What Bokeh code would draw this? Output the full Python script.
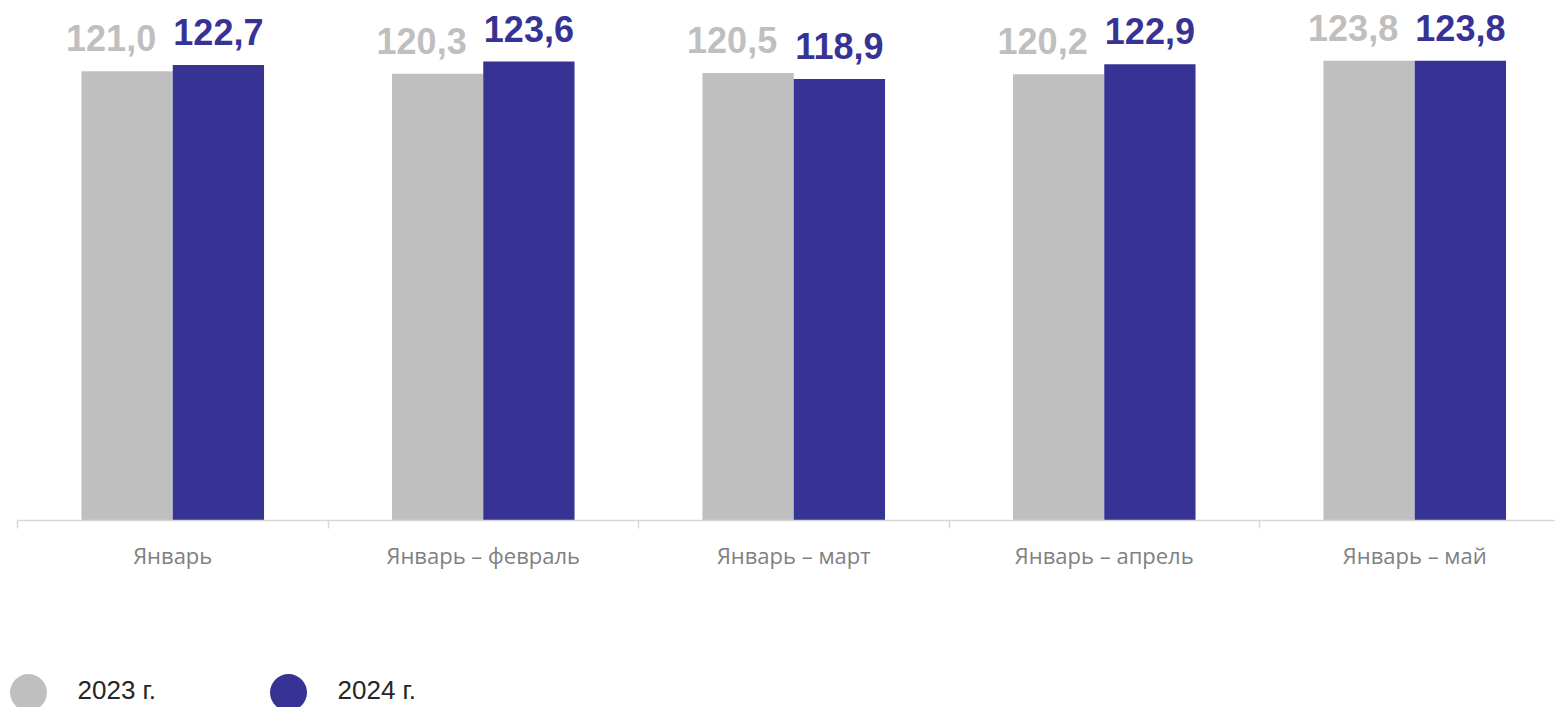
from bokeh.plotting import figure
from bokeh.models import ColumnDataSource, FixedTicker, Range1d
from bokeh.transform import dodge
from bokeh.core.properties import value
from bokeh.layouts import column
from bokeh.embed import file_html
from bokeh.resources import INLINE

categories = ["Январь", "Январь – февраль", "Январь – март", "Январь – апрель", "Январь – май"]
v2023 = [121.0, 120.3, 120.5, 120.2, 123.8]
v2024 = [122.7, 123.6, 118.9, 122.9, 123.8]
series = ["2023 г.", "2024 г."]

GRAY = "#bfbfbf"
BLUE = "#373395"
colors = [GRAY, BLUE]

def fmt(v):
    return f"{v:.1f}".replace(".", ",")

xs = list(range(len(categories)))
src = ColumnDataSource(dict(
    x=xs, v2023=v2023, v2024=v2024,
    l2023=[fmt(v) for v in v2023], l2024=[fmt(v) for v in v2024],
))

W = 1555
LEFT = 17
p = figure(width=W, height=600, x_range=Range1d(-0.5, -0.5 + (W - LEFT) / 310.5),
           y_range=Range1d(0, 137.9), output_backend="svg", toolbar_location=None,
           y_axis_location=None, min_border_left=LEFT, min_border_right=0,
           min_border_top=8, min_border_bottom=80)
p.frame_align = False
p.outline_line_color = None
p.xgrid.grid_line_color = None
p.ygrid.grid_line_color = None
p.background_fill_color = "white"

bw = 0.294
off = 0.147
p.vbar(x=dodge("x", -off, range=p.x_range), top="v2023", width=bw, source=src,
       fill_color=GRAY, line_color=None)
p.vbar(x=dodge("x", off, range=p.x_range), top="v2024", width=bw, source=src,
       fill_color=BLUE, line_color=None)

p.text(x=dodge("x", -off, range=p.x_range), y="v2023", text="l2023", source=src,
       text_align="center", text_baseline="alphabetic", x_offset=-16, y_offset=-33,
       text_font=value("Liberation Sans"), text_font_style="bold",
       text_font_size="36px", text_color=GRAY)
p.text(x=dodge("x", off, range=p.x_range), y="v2024", text="l2024", source=src,
       text_align="center", text_baseline="alphabetic", x_offset=0, y_offset=-33,
       text_font=value("Liberation Sans"), text_font_style="bold",
       text_font_size="36px", text_color=BLUE)

ax = p.xaxis[0]
ax.ticker = FixedTicker(ticks=xs, minor_ticks=[i - 0.5 for i in range(len(categories) + 1)])
ax.major_label_overrides = {i: c for i, c in enumerate(categories)}
ax.major_tick_line_color = None
ax.major_tick_in = 0
ax.major_tick_out = 0
ax.minor_tick_in = 0
ax.minor_tick_out = 8
ax.minor_tick_line_color = "#d9d9d9"
ax.minor_tick_line_width = 1.5
ax.axis_line_color = "#d9d9d9"
ax.axis_line_width = 1.5
ax.major_label_standoff = 11
ax.major_label_text_font = "Open Sans"
ax.major_label_text_font_size = "22px"
ax.major_label_text_color = "#808080"

# legend strip
LH = 107
lg = figure(width=W, height=LH, x_range=Range1d(0, W), y_range=Range1d(0, LH),
            output_backend="svg", toolbar_location=None, x_axis_location=None,
            y_axis_location=None, min_border=0)
lg.frame_align = False
lg.outline_line_color = None
lg.xgrid.grid_line_color = None
lg.ygrid.grid_line_color = None
step = 260
lsrc = ColumnDataSource(dict(
    cx=[28 + i * step for i in range(len(series))],
    tx=[77 + i * step for i in range(len(series))],
    cy=[15] * len(series), ty=[18] * len(series),
    label=series, color=colors,
))
lg.scatter(x="cx", y="cy", size=37, marker="circle", fill_color="color",
           line_color=None, source=lsrc)
lg.text(x="tx", y="ty", text="label", source=lsrc, text_align="left",
        text_baseline="middle", text_font=value("Liberation Sans"),
        text_font_size="26px", text_color="#262626")

layout = column(p, lg, spacing=0)
open("out.html", "w").write(file_html(layout, INLINE))
